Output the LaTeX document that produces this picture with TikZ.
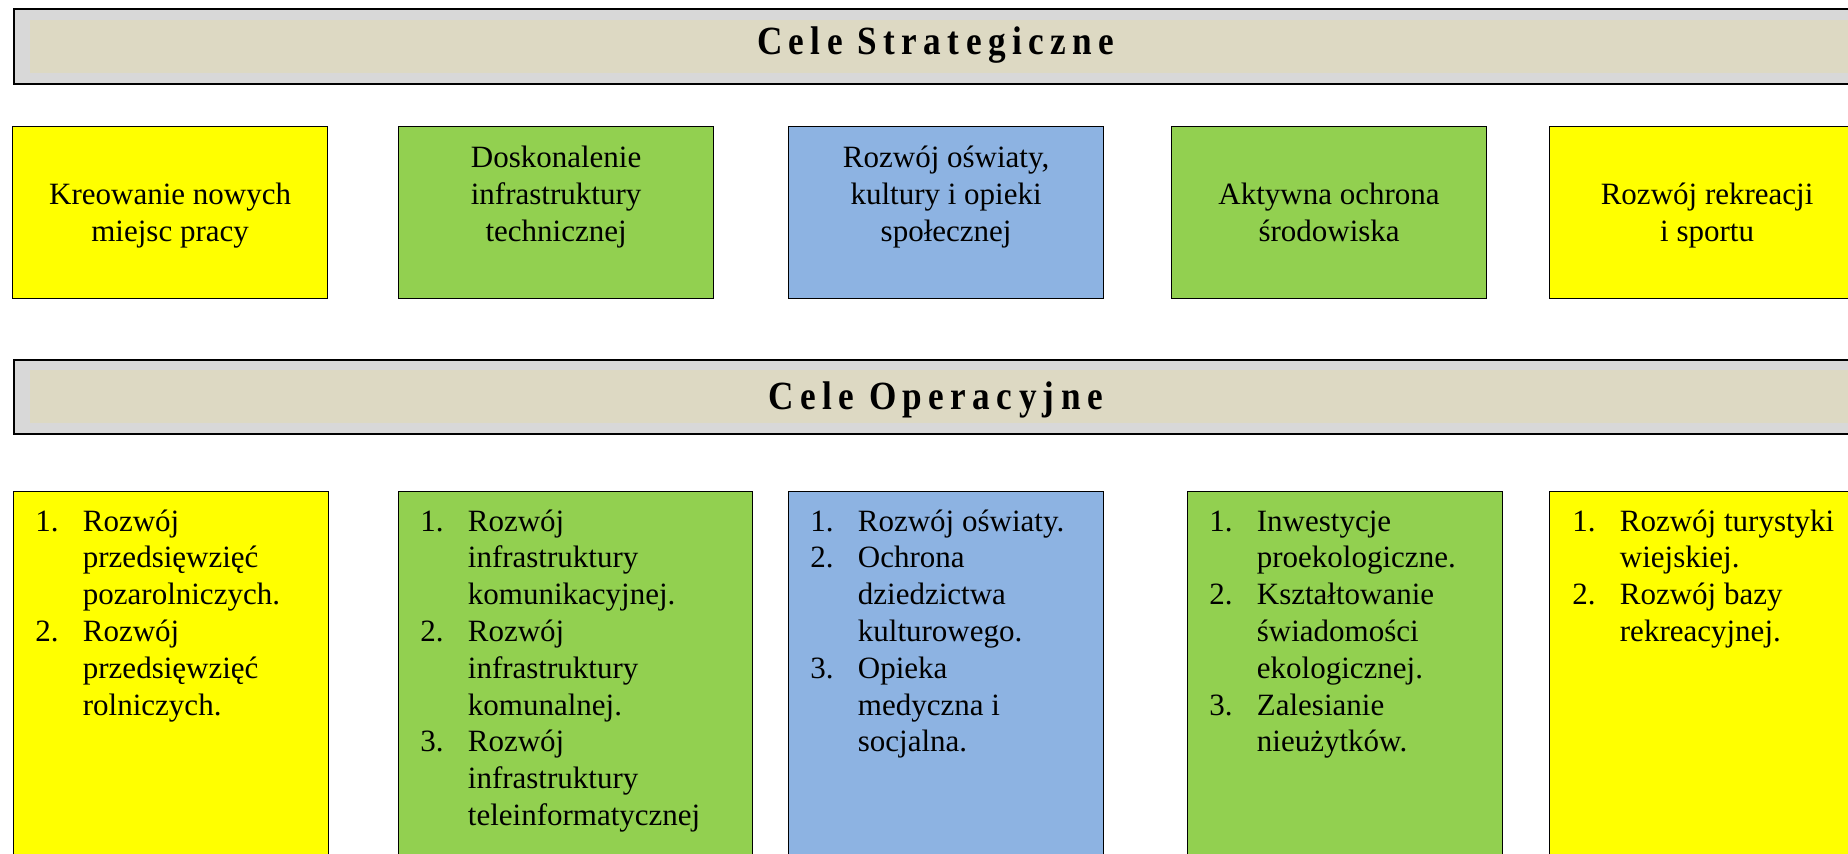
\documentclass[tikz,border=0pt]{standalone}
\usepackage{fontspec}
\usepackage{xcolor}
\usepackage{tikz}
\setmainfont{Liberation Serif}
\newfontfamily\titlefont[LetterSpace=16, FakeStretch=0.88]{Liberation Serif}
\definecolor{goalyellow}{RGB}{255, 255, 0}
\definecolor{goalgreen}{RGB}{146, 208, 80}
\definecolor{goalblue}{RGB}{141, 179, 226}
\definecolor{bannergray}{RGB}{216, 216, 216}
\definecolor{bannertan}{RGB}{221, 217, 195}
\newcommand{\goallines}[1]{\parbox[b]{155pt}{\centering #1}}
\newcommand{\oplist}[1]{\parbox[t]{200pt}{\raggedright #1}}
\newcommand{\opitem}[2]{\par\noindent\hangindent=23.75pt\hangafter=1\makebox[23.75pt][l]{#1}#2\par}
\tikzset{
  banner/.style={draw, line width=1pt, fill=bannergray, anchor=north west, inner sep=0pt, minimum width=933.5pt},
  bannerin/.style={fill=bannertan, anchor=north west, inner sep=0pt, minimum width=925pt, minimum height=26.5pt},
  bannertext/.style={anchor=base, inner sep=0pt, font=\titlefont\fontsize{20pt}{24pt}\selectfont\bfseries},
  goalbox/.style={draw, line width=0.6pt, anchor=north west, inner sep=0pt, minimum width=157.5pt, minimum height=86pt},
  goaltext/.style={anchor=base, inner sep=0pt, font=\fontsize{15.5pt}{18.5pt}\selectfont},
  opbox/.style={draw, line width=0.6pt, anchor=north west, inner sep=0pt, minimum height=210pt},
  optext/.style={anchor=base west, inner sep=0pt, font=\fontsize{15.5pt}{18.4pt}\selectfont}
}
\begin{document}
\begin{tikzpicture}[x=0.5pt, y=-0.5pt]
  \useasboundingbox (0,0) rectangle (1848,853);
  \clip (0,0) rectangle (1848,853);

  % strategic goals banner
  \node[banner, minimum height=37.5pt] (stratbar) at (13,8) {};
  \node[bannerin] (stratbarin) at (30,20) {};
  \node[bannertext] (strattitle) at (935.5,54) {Cele Strategiczne};

  % strategic goals
  \node[goalbox, fill=goalyellow] (goal1) at (12,126) {};
  \node[goalbox, fill=goalgreen] (goal2) at (398,126) {};
  \node[goalbox, fill=goalblue] (goal3) at (788,126) {};
  \node[goalbox, fill=goalgreen] (goal4) at (1171,126) {};
  \node[goalbox, fill=goalyellow] (goal5) at (1549,126) {};
  \node[goaltext] (goal1t) at ([yshift=29pt]goal1.south) {\goallines{Kreowanie nowych\\miejsc pracy}};
  \node[goaltext] (goal2t) at ([yshift=29pt]goal2.south) {\goallines{Doskonalenie\\infrastruktury\\technicznej}};
  \node[goaltext] (goal3t) at ([yshift=29pt]goal3.south) {\goallines{Rozwój oświaty,\\kultury i opieki\\społecznej}};
  \node[goaltext] (goal4t) at ([yshift=29pt]goal4.south) {\goallines{Aktywna ochrona\\środowiska}};
  \node[goaltext] (goal5t) at ([yshift=29pt]goal5.south) {\goallines{Rozwój rekreacji\\i sportu}};

  % operational goals banner
  \node[banner, minimum height=37pt] (opbar) at (13,359) {};
  \node[bannerin] (opbarin) at (30,370) {};
  \node[bannertext] (optitle) at (935.5,409) {Cele Operacyjne};

  % operational goals
  \node[opbox, fill=goalyellow, minimum width=157.5pt] (op1) at (13,491) {};
  \node[opbox, fill=goalgreen, minimum width=177pt] (op2) at (398,491) {};
  \node[opbox, fill=goalblue, minimum width=157.5pt] (op3) at (788,491) {};
  \node[opbox, fill=goalgreen, minimum width=157.5pt] (op4) at (1187,491) {};
  \node[opbox, fill=goalyellow, minimum width=157.5pt] (op5) at (1549,491) {};
  \node[optext] (op1t) at ([xshift=11pt, yshift=-20pt]op1.north west) {\oplist{%
    \opitem{1.}{Rozwój\newline przedsięwzięć\newline pozarolniczych.}
    \opitem{2.}{Rozwój\newline przedsięwzięć\newline rolniczych.}}};
  \node[optext] (op2t) at ([xshift=11pt, yshift=-20pt]op2.north west) {\oplist{%
    \opitem{1.}{Rozwój\newline infrastruktury\newline komunikacyjnej.}
    \opitem{2.}{Rozwój\newline infrastruktury\newline komunalnej.}
    \opitem{3.}{Rozwój\newline infrastruktury\newline teleinformatycznej}}};
  \node[optext] (op3t) at ([xshift=11pt, yshift=-20pt]op3.north west) {\oplist{%
    \opitem{1.}{Rozwój oświaty.}
    \opitem{2.}{Ochrona\newline dziedzictwa\newline kulturowego.}
    \opitem{3.}{Opieka\newline medyczna i\newline socjalna.}}};
  \node[optext] (op4t) at ([xshift=11pt, yshift=-20pt]op4.north west) {\oplist{%
    \opitem{1.}{Inwestycje\newline proekologiczne.}
    \opitem{2.}{Kształtowanie\newline świadomości\newline ekologicznej.}
    \opitem{3.}{Zalesianie\newline nieużytków.}}};
  \node[optext] (op5t) at ([xshift=11.5pt, yshift=-20pt]op5.north west) {\oplist{%
    \opitem{1.}{Rozwój turystyki\newline wiejskiej.}
    \opitem{2.}{Rozwój bazy\newline rekreacyjnej.}}};
\end{tikzpicture}
\end{document}
